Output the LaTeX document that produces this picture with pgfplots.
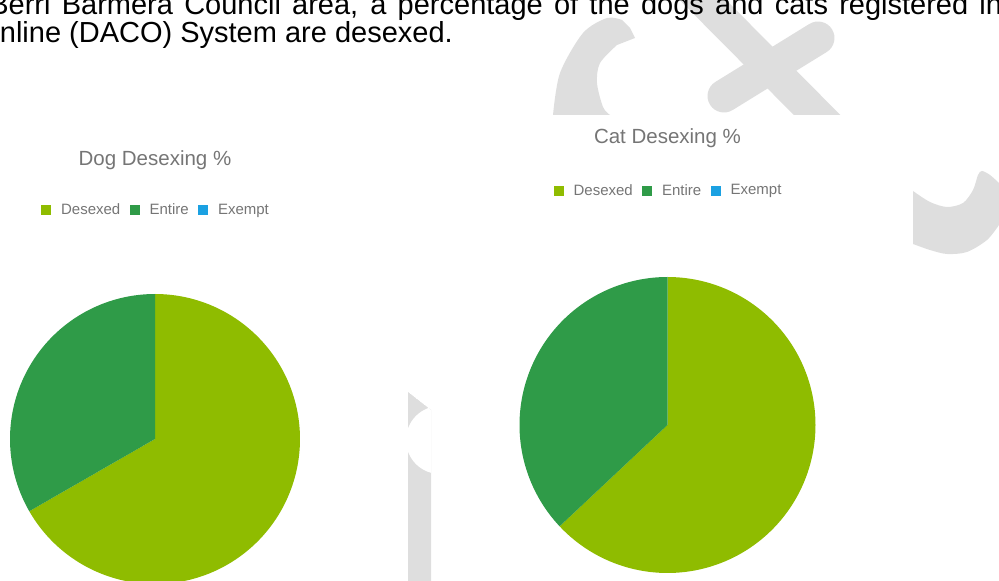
\documentclass[border=0pt]{standalone}
\usepackage{pgfplots}
\pgfplotsset{compat=1.18}
\usepackage{pgfplotstable}
\usepackage{fontspec}
\setmainfont{Liberation Sans}
\usetikzlibrary{calc}

\definecolor{desexed}{HTML}{8FBC00}
\definecolor{entire}{HTML}{2F9B48}
\definecolor{exempt}{HTML}{1BA1E2}
\definecolor{labelgray}{HTML}{757575}
\definecolor{wm}{HTML}{DEDEDE}

% registration shares, percent
\pgfplotstableread{
status  share
Desexed 66.7
Entire  33.3
Exempt  0
}\dogdata
\pgfplotstableread{
status  share
Desexed 63.0
Entire  37.0
Exempt  0
}\catdata

\pgfplotstablegetelem{0}{share}\of\dogdata \let\dogA\pgfplotsretval
\pgfplotstablegetelem{1}{share}\of\dogdata \let\dogB\pgfplotsretval
\pgfplotstablegetelem{0}{share}\of\catdata \let\catA\pgfplotsretval
\pgfplotstablegetelem{1}{share}\of\catdata \let\catB\pgfplotsretval
% slices start at 12 o'clock and run clockwise
\pgfmathsetmacro\dogcut{90-3.6*\dogA}
\pgfmathsetmacro\dogend{\dogcut-3.6*\dogB}
\pgfmathsetmacro\catcut{90-3.6*\catA}
\pgfmathsetmacro\catend{\catcut-3.6*\catB}

\newcommand\slice[3]{%
  \addplot[fill=#1, draw=none, domain=#2:#3, samples=180, forget plot]
    ({cos(x)},{sin(x)}) -- (axis cs:0,0) -- cycle;}

\pgfplotsset{
  pie/.style={
    width=#1, height=#1, scale only axis,
    xmin=-1, xmax=1, ymin=-1, ymax=1,
    hide axis, clip=false,
    title style={anchor=base, inner sep=0pt, text=labelgray,
      font=\fontsize{20.5}{24}\selectfont},
    legend columns=3,
    legend image code/.code={\fill[##1] (0pt,-5pt) rectangle (10pt,5pt);},
    legend style={draw=none, fill=none, anchor=center, inner sep=0pt,
      text=labelgray, font=\fontsize{15}{18}\selectfont,
      nodes={inner sep=0pt},
      /tikz/every odd column/.append style={column sep=10pt},
      /tikz/every even column/.append style={column sep=9.3pt}},
  },
}

\begin{document}
\begin{tikzpicture}[x=1pt, y=1pt]
\useasboundingbox (0,0) rectangle (999,581);
\clip (0,0) rectangle (999,581);

% watermark behind the page
\begin{scope}
  \clip (0,466) rectangle (999,581);
  \fill[wm] plot[smooth] coordinates {(553,466) (560,508) (583,548) (607,563) (622,561)}
    -- (630,553) -- (635,543)
    -- plot[smooth] coordinates {(617,536) (600,518) (597,498) (603,474) (610,466)} -- cycle;
  \draw[wm, line width=33pt] (690,594) -- (830,453);
  \draw[wm, line width=33pt, line cap=round] (818,543) -- (724,485);
\end{scope}
\fill[wm] (913,390) -- plot[smooth] coordinates {(913,390) (930,379) (947,374) (963,378) (973,391) (978,406) (982,410) (990,406) (999,398)}
  -- (999,356) -- plot[smooth] coordinates {(999,356) (987,341) (967,329) (947,327) (930,331) (913,337)} -- cycle;
\begin{scope}
  \clip (408,189) -- (431,171) -- (431,0) -- (408,0) -- cycle;
  \fill[wm] (408,189) -- (431,171) -- (431,0) -- (408,0) -- cycle;
  \fill[white] (440,141) circle[radius=34];
\end{scope}

% text of the page above the charts
\node[anchor=base east, inner sep=0pt, font=\fontsize{29}{33}\selectfont] (l2) at (453,538)
  {Online (DACO) System are desexed.};
\path let \p1=($(l2.base west)+(12,0)$) in
  node[anchor=base west, inner sep=0pt, font=\fontsize{29}{33}\selectfont] at (\x1,566)
  {\makebox[\dimexpr1002pt-\x1\relax][s]{Berri Barmera Council area, a percentage of the dogs and cats registered in}};

\begin{axis}[pie=290pt, at={(155pt,142pt)}, anchor=center,
  title={Dog Desexing \%}, title style={at={(0.5,1.424)}},
  legend style={at={(0.5,1.290)}}]
  \slice{desexed}{\dogcut}{90}
  \slice{entire}{\dogend}{\dogcut}
  \addlegendimage{fill=desexed, draw=none}\addlegendentry{Desexed}
  \addlegendimage{fill=entire, draw=none}\addlegendentry{Entire}
  \addlegendimage{fill=exempt, draw=none}\addlegendentry{Exempt}
\end{axis}

\begin{axis}[pie=296pt, at={(667.5pt,156pt)}, anchor=center,
  title={Cat Desexing \%}, title style={at={(0.5,1.432)}},
  legend style={at={(0.5,1.292)}}]
  \slice{desexed}{\catcut}{90}
  \slice{entire}{\catend}{\catcut}
  \addlegendimage{fill=desexed, draw=none}\addlegendentry{Desexed}
  \addlegendimage{fill=entire, draw=none}\addlegendentry{Entire}
  \addlegendimage{fill=exempt, draw=none}\addlegendentry{Exempt}
\end{axis}
\end{tikzpicture}
\end{document}
